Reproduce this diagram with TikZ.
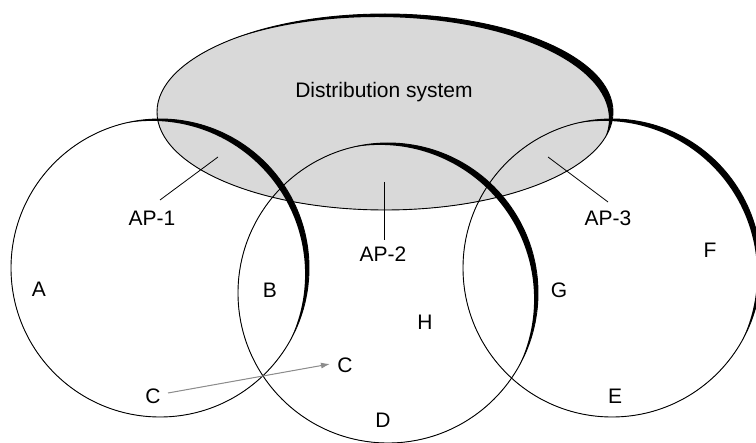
\documentclass[tikz,border=0pt]{standalone}
\usepackage{fontspec}
\setmainfont{Liberation Sans}
\usetikzlibrary{arrows.meta}
\begin{document}
\begin{tikzpicture}[x=1pt,y=-1pt,
  lbl/.style={font=\fontsize{21}{25}\selectfont, inner sep=0pt},
  outline/.style={draw=black, line width=0.9pt},
  pointer/.style={draw=black, line width=0.8pt},
  move/.style={draw=gray!90, line width=1pt, -{Latex[length=9pt,width=6pt]}, fill=gray!90}]
\useasboundingbox (0,0) rectangle (756,443);
% distribution system
\fill[gray!30] (385,112) ellipse [x radius=228, y radius=98];
\begin{scope}
  \clip (385,112) ellipse [x radius=228, y radius=98];
  \fill[even odd rule] (385,112) ellipse [x radius=228, y radius=98]
        (377,119) ellipse [x radius=232, y radius=102];
\end{scope}
\draw[outline] (385,112) ellipse [x radius=228, y radius=98];
% coverage areas
\foreach \cx/\cy/\r in {160/268/149, 388/293/150, 612/268/149}{
  \begin{scope}
    \clip (\cx,\cy) circle (\r);
    \fill[even odd rule] (\cx,\cy) circle (\r) (\cx-8.2,\cy+6.2) circle (\r+4.3);
  \end{scope}
  \draw[outline] (\cx,\cy) circle (\r);
}
% texts
\node[lbl] (ds) at (384,92) {Distribution system};
\node[lbl] (ap1) at (152,218) {AP-1};
\node[lbl] (ap2) at (383,254) {AP-2};
\node[lbl] (ap3) at (608,218) {AP-3};
\node[lbl] (a) at (39,289) {A};
\node[lbl] (b) at (270,290) {B};
\node[lbl] (h) at (425,322) {H};
\node[lbl] (c2) at (345,365) {C};
\node[lbl] (c1) at (153,396) {C};
\node[lbl] (d) at (383,420) {D};
\node[lbl] (e) at (615,396) {E};
\node[lbl] (f) at (710,250) {F};
\node[lbl] (g) at (559,290) {G};
% pointers to access points
\coordinate (p1a) at (218,157);
\coordinate (p1b) at (160,200);
\coordinate (p2a) at (384,182);
\coordinate (p2b) at (384,240);
\coordinate (p3a) at (548,157);
\coordinate (p3b) at (608,202);
\draw[pointer] (p1a) -- (p1b);
\draw[pointer] (p2a) -- (p2b);
\draw[pointer] (p3a) -- (p3b);
% station movement
\coordinate (mvs) at (168,393);
\coordinate (mve) at (330,364);
\draw[move] (mvs) -- (mve);
\end{tikzpicture}
\end{document}
